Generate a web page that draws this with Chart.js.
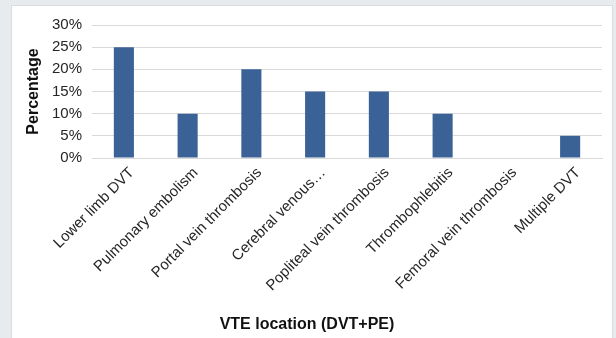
<!DOCTYPE html>
<html>
<head>
<meta charset="utf-8">
<script src="https://cdn.jsdelivr.net/npm/chart.js@4"></script>
<style>
  html, body { margin: 0; padding: 0; }
  body { width: 616px; height: 338px; overflow: hidden; background: #e8ebee; position: relative; }
  #panel {
    position: absolute; left: 11px; top: 5px; width: 600px; height: 340px;
    background: #fff; border: 1px solid #dadde0;
  }
  #wrap { position: absolute; left: 0; top: 0; width: 600px; height: 332px; }
</style>
</head>
<body>
<div id="panel"><div id="wrap"><canvas id="chart"></canvas></div></div>
<script>
const categories = [
  "Lower limb DVT",
  "Pulmonary embolism",
  "Portal vein thrombosis",
  "Cerebral venous…",
  "Popliteal vein thrombosis",
  "Thrombophlebitis",
  "Femoral vein thrombosis",
  "Multiple DVT"
];
const percentages = [25, 10, 20, 15, 15, 10, 0, 5];
const yTicks = [0, 5, 10, 15, 20, 25, 30];

const barColor = "#3a6296";
const gridColor = "#d9d9d9";
const fontFamily = "'Liberation Sans', Arial, sans-serif";

const ctx = document.getElementById("chart").getContext("2d");

new Chart(ctx, {
  type: "bar",
  data: {
    labels: categories,
    datasets: [{
      label: "Percentage",
      data: percentages,
      backgroundColor: barColor,
      categoryPercentage: 1,
      barPercentage: 0.315
    }]
  },
  options: {
    responsive: true,
    maintainAspectRatio: false,
    animation: false,
    layout: { padding: { top: 16, right: 10, left: 0, bottom: 0 } },
    scales: {
      x: {
        grid: { display: false, drawTicks: false },
        border: { display: true, color: gridColor, width: 1 },
        ticks: {
          autoSkip: false,
          minRotation: 45,
          maxRotation: 45,
          padding: 6,
          labelOffset: 8,
          color: "#262626",
          font: { family: fontFamily, size: 15 }
        },
        afterFit: (scale) => { scale.height = 156.8; }
      },
      y: {
        min: 0,
        max: 30,
        afterBuildTicks: (scale) => { scale.ticks = yTicks.map(v => ({ value: v })); },
        grid: { color: gridColor, lineWidth: 1, drawTicks: false },
        border: { display: false },
        ticks: {
          padding: 10,
          color: "#262626",
          font: { family: fontFamily, size: 15 },
          callback: (v) => v + "%"
        },
        title: {
          display: true,
          text: "Percentage",
          color: "#111",
          padding: { top: 12, bottom: 0 },
          font: { family: fontFamily, size: 16, weight: "bold" }
        },
        afterFit: (scale) => { scale.width = 80; }
      }
    },
    plugins: {
      legend: { display: false },
      tooltip: { enabled: false },
      title: {
        display: true,
        position: "bottom",
        text: "VTE location (DVT+PE)",
        color: "#111",
        padding: { top: 0, bottom: 4 },
        font: { family: fontFamily, size: 16, weight: "bold" }
      }
    }
  }
});
</script>
</body>
</html>
